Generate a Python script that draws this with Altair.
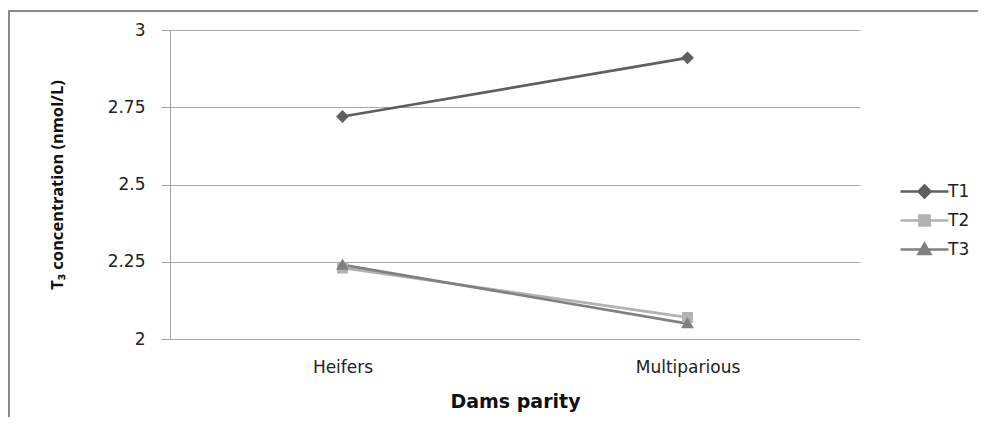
import altair as alt
import pandas as pd

parity = ["Heifers", "Multiparious"]
series = ["T1", "T2", "T3"]
t1 = [2.72, 2.91]
t2 = [2.23, 2.07]
t3 = [2.24, 2.05]
y_ticks = [2, 2.25, 2.5, 2.75, 3]
colors = ["#5f5f5f", "#b2b2b2", "#808080"]
# custom symbols: marker plus a horizontal line (line only shows in legend, where stroke is on)
shapes = [
    "M-4,0H4M0,-1L1,0L0,1L-1,0Z",
    "M-4,0H4M-0.85,-0.85H0.85V0.85H-0.85Z",
    "M-4,0H4M0,-1L1,0.75H-1Z",
]

rows = []
for s, vals in zip(series, [t1, t2, t3]):
    for p, v in zip(parity, vals):
        rows.append({"Parity": p, "Value": v, "Series": s})
df = pd.DataFrame(rows)

W, H = 690, 309

x = alt.X("Parity:N", scale=alt.Scale(type="point", padding=0.5, domain=parity),
          axis=alt.Axis(title="Dams parity", labelAngle=0, ticks=False, domain=False,
                        labelPadding=20, titlePadding=17, labelFontSize=17,
                        titleFontSize=19, titleFontWeight="bold", labelColor="#222",
                        titleColor="#111", labelFont="DejaVu Sans", titleFont="DejaVu Sans"))
y = alt.Y("Value:Q", scale=alt.Scale(domain=[2, 3], nice=False, zero=False),
          axis=alt.Axis(title="T₃ concentration (nmol/L)", values=y_ticks, format=".2~f",
                        tickSize=9, labelPadding=16, tickColor="#a0a0a0", domainColor="#a0a0a0",
                        gridColor="#a8a8a8", labelFontSize=17, labelColor="#222",
                        labelFont="DejaVu Sans", titleFont="Noto Sans", titleFontSize=16.5,
                        titleFontWeight="bold", titleColor="#111", titlePadding=42))

sc = alt.Scale(domain=series, range=colors)
shp = alt.Scale(domain=series, range=shapes)

leg = alt.Legend(
    title=None, orient="none", legendX=746, legendY=153, symbolSize=144,
    symbolStrokeWidth=2.5, labelOffset=15, labelFontSize=17, labelFont="DejaVu Sans",
    labelColor="#222", rowPadding=7, padding=0, symbolOpacity=1)

lines = alt.Chart(df).mark_line(strokeWidth=2.7).encode(
    x=x, y=y, stroke=alt.Stroke("Series:N", scale=sc, legend=leg), detail="Series:N"
)
points = alt.Chart(df).mark_point(filled=True, size=165, strokeWidth=0, opacity=1).encode(
    x=x, y=y,
    fill=alt.Fill("Series:N", scale=sc, legend=leg),
    shape=alt.Shape("Series:N", scale=shp, legend=leg),
)

one = pd.DataFrame({"f": [0]})
top_rule = alt.Chart(one).mark_rule(stroke="#8a8a8a", strokeWidth=2).encode(
    x=alt.value(-161), x2=alt.value(820), y=alt.value(-19))
left_rule = alt.Chart(one).mark_rule(stroke="#8a8a8a", strokeWidth=2).encode(
    x=alt.value(-161), y=alt.value(-20), y2=alt.value(400))

chart = alt.layer(top_rule, left_rule, lines, points).properties(
    width=W, height=H,
    autosize=alt.AutoSizeParams(type="none"),
    padding={"left": 162, "top": 22, "right": 118, "bottom": 78},
).configure_view(stroke=None).configure_axis(gridWidth=1)

chart.save("out.html", embed_options={"renderer": "svg", "actions": False})
